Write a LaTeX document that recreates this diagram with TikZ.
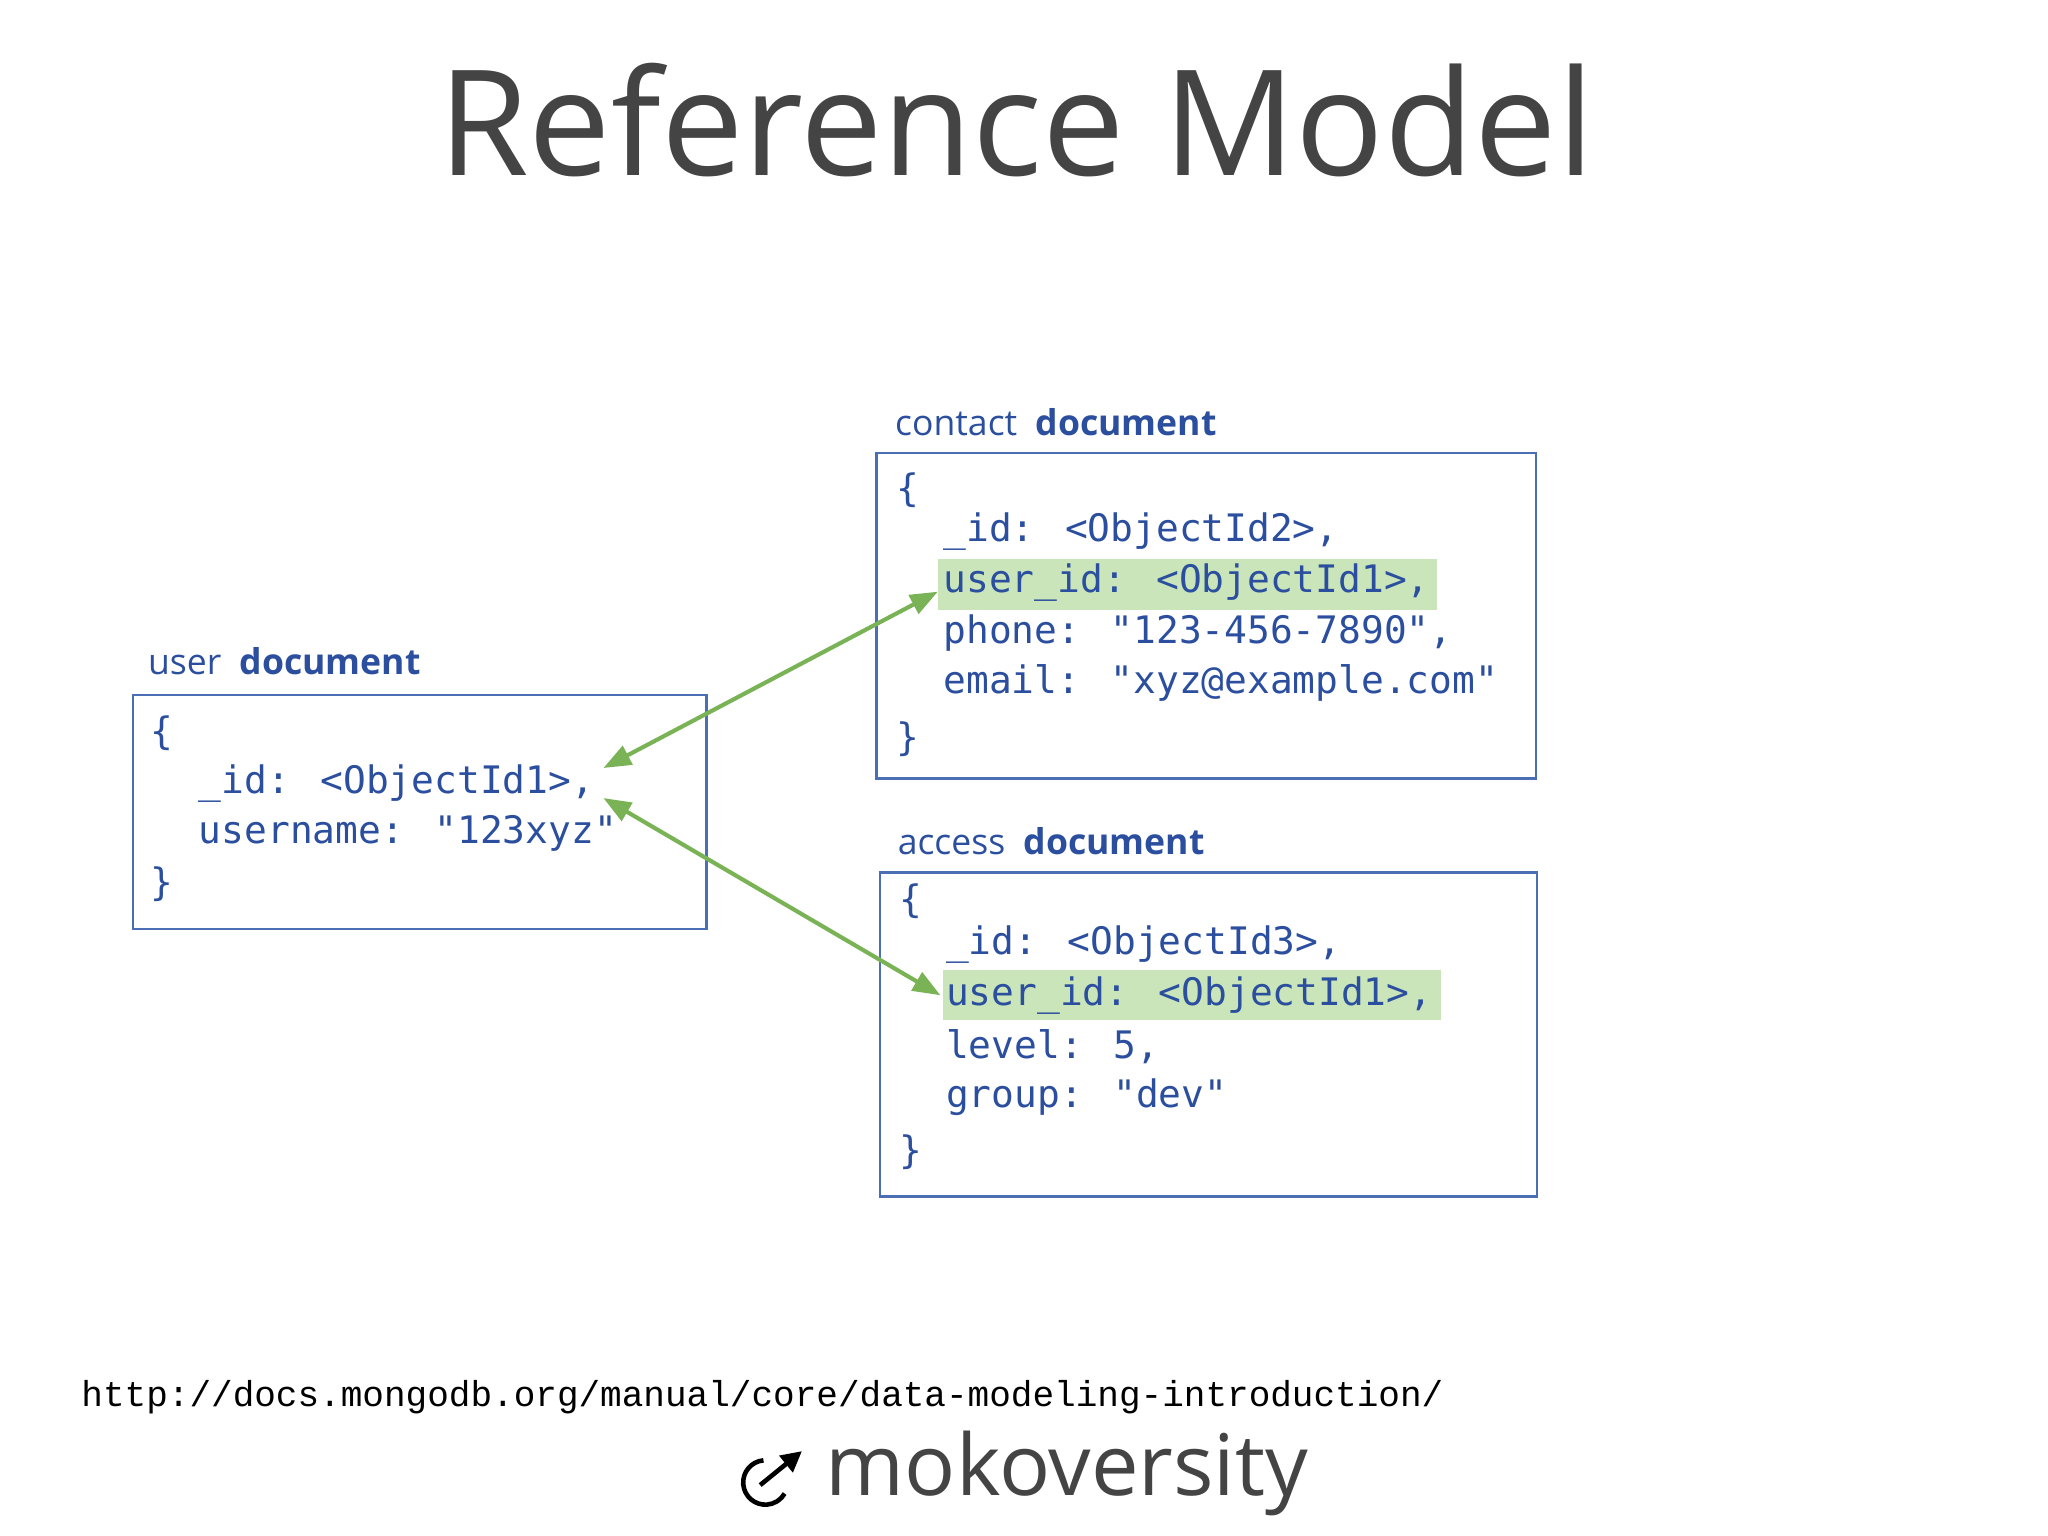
\documentclass[tikz,border=0pt]{standalone}
\usepackage{fontspec}
\setmainfont{Open Sans}
\newfontfamily\codef{DejaVu Sans Mono}
\newfontfamily\urlf{Liberation Mono}
\usetikzlibrary{arrows.meta}
\definecolor{codeblue}{HTML}{2B4F9E}
\definecolor{boxblue}{HTML}{4A6FB5}
\definecolor{hl}{HTML}{C9E5B9}
\definecolor{arr}{HTML}{7AB356}
\definecolor{title}{HTML}{444444}
\begin{document}
\begin{tikzpicture}[x=0.02cm,y=-0.02cm,
  code/.style={anchor=west,inner sep=0,font=\codef\fontsize{16.5}{20}\selectfont,text=codeblue},
  lbl/.style={anchor=west,inner sep=0,font=\fontsize{15.5}{18}\selectfont,text=codeblue},
  doc/.style={draw=boxblue,line width=1pt},
  link/.style={draw=arr,line width=1.8pt,{Triangle[length=12pt,width=9pt]}-{Triangle[length=12pt,width=9pt]}}]
\useasboundingbox (0,0) rectangle (1568,1176);
\node[font=\fontsize{64}{72}\selectfont,text=title] (t) at (778,92) {Reference Model};
% boxes
\draw[doc] (102,532) rectangle (541,711);
\draw[doc] (671,347) rectangle (1176,596);
\draw[doc] (674,668) rectangle (1177,916);
\fill[hl] (718,428) rectangle (1100,467);
\fill[hl] (722,743) rectangle (1103,781);
% labels
\node[lbl] (lu) at (113,506) {user\ \ \textbf{document}};
\node[lbl] (lc) at (685,323) {contact\ \ \textbf{document}};
\node[lbl] (la) at (687,644) {access\ \ \textbf{document}};
% user
\node[code] (u0) at (115,561) {\{};
\node[code] (u1) at (152,600) {\_id: <ObjectId1>,};
\node[code] (u2) at (152,638) {username: "123xyz"};
\node[code] (u3) at (115,677) {\}};
% contact
\node[code] (c0) at (686,375) {\{};
\node[code] (c1) at (722,407) {\_id: <ObjectId2>,};
\node[code] (c2) at (722,446) {user\_id: <ObjectId1>,};
\node[code] (c3) at (722,485) {phone: "123-456-7890",};
\node[code] (c4) at (722,523) {email: "xyz@example.com"};
\node[code] (c5) at (686,566) {\}};
% access
\node[code] (a0) at (688,690) {\{};
\node[code] (a1) at (724,723) {\_id: <ObjectId3>,};
\node[code] (a2) at (724,762) {user\_id: <ObjectId1>,};
\node[code] (a3) at (724,801) {level: 5,};
\node[code] (a4) at (724,840) {group: "dev"};
\node[code] (a5) at (688,882) {\}};
% arrows
\coordinate (p1) at (718,453);
\coordinate (p2) at (462,588);
\coordinate (p3) at (720,762);
\coordinate (p4) at (462,611);
\draw[link] (p2) -- (p1);
\draw[link] (p4) -- (p3);
% footer
\node[anchor=west,inner sep=0,font=\urlf\fontsize{15.7}{20}\selectfont] (url) at (62,1070) {http://docs.mongodb.org/manual/core/data-modeling-introduction/};
\node[anchor=west,inner sep=0,font=\fontsize{37}{44}\selectfont,text=title] (logo) at (632,1128) {mokoversity};
\begin{scope}[shift={(586,1135)},yscale=-1]
\draw[black,line width=2pt] (95:17) arc[start angle=95,end angle=330,radius=17];
\coordinate (ia) at (-4,-2);
\coordinate (ib) at (28,24);
\draw[black,line width=2pt,-{Triangle[length=9pt,width=9pt]}] (ia) -- (ib);
\end{scope}
\end{tikzpicture}
\end{document}
